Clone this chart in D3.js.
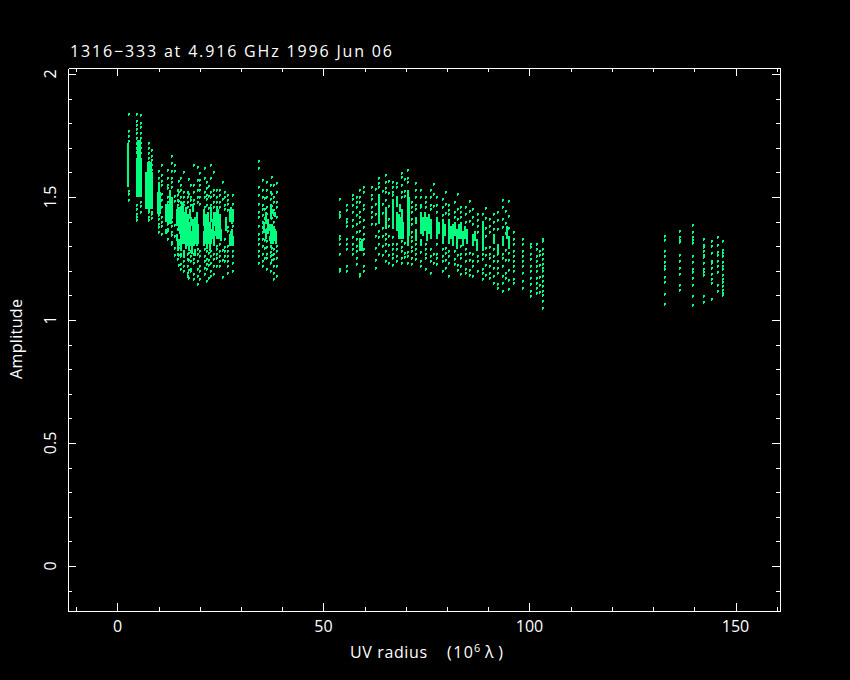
<!DOCTYPE html>
<html><head><meta charset="utf-8">
<script src="https://cdnjs.cloudflare.com/ajax/libs/d3/7.8.5/d3.min.js"></script>
<style>html,body{margin:0;background:#000}svg{display:block}text{font-family:"Open Sans","DejaVu Sans",sans-serif;font-weight:400;fill:#fff}</style>
</head><body><svg id="c" width="850" height="680"></svg>
<script>
const titleText = "1316\u2212333 at 4.916 GHz 1996 Jun 06";
const xTitle = "UV radius";
const yTitle = "Amplitude";
const xMajor = [0, 50, 100, 150];
const xMinor = [-10,10,20,30,40,60,70,80,90,110,120,130,140,160];
const yMajor = [0, 0.5, 1, 1.5, 2];
const yLabels = ["0", "0.5", "1", "1.5", "2"];
const yMinor = [-0.1,0.1,0.2,0.3,0.4,0.6,0.7,0.8,0.9,1.1,1.2,1.3,1.4,1.6,1.7,1.8,1.9];

// solid patches of the inner tracks
const bandFrom = [2.4,4.5,4.8,6.7,7.2,9.6,9.9,11.5,12.0,12.4];
const bandTo   = [2.9,5.9,5.7,8.6,8.4,10.6,10.4,12.2,13.2,13.0];
const bandLow  = [1.54,1.50,1.66,1.45,1.60,1.43,1.52,1.41,1.39,1.47];
const bandHigh = [1.72,1.66,1.73,1.60,1.64,1.52,1.56,1.47,1.47,1.53];

// streaks: radius, then low,high pairs of the unbroken runs on that column
const streakRadius = [11.6,13.0,14.2,14.4,14.7,14.9,15.2,15.4,15.7,15.9,16.1,16.4,16.6,16.9,17.1,17.4,17.6,17.8,18.1,18.3,18.6,18.8,19.1,19.3,
  20.8,21,21.2,21.5,21.7,22,22.2,22.5,22.9,23.2,23.7,23.9,24.2,24.4,24.6,24.9,26,27.1,27.3,27.5,27.8,
  35.2,35.7,36.2,36.7,37,37.3,37.5,37.8,38,38.3,
  58.5,59,63.3,64.9,66.6,67.6,68.1,68.4,68.6,68.9,69.1,70.3,70.5,72.2,73.4,73.9,74.3,74.8,75.3,75.8,77.3,77.8,78.7,79.2,80.2,80.7,81.2,81.7,82.2,82.7,83.1,83.6,84.1,84.6,86,86.5,87,88.4,91.1,92,93.3,94.2,94.7];
const streakRuns = [
 [1.40,1.47,1.35,1.37],[1.41,1.50],[1.38,1.45,1.32,1.35],[1.40,1.46,1.28,1.33],[1.36,1.46],[1.35,1.44,1.30,1.33],[1.33,1.45,1.28,1.31],[1.31,1.42,1.44,1.48],[1.33,1.46],[1.31,1.40,1.42,1.44,1.25,1.28],[1.32,1.44],[1.29,1.37,1.39,1.46],[1.31,1.42],[1.30,1.35,1.37,1.43],[1.28,1.40],[1.31,1.38,1.41,1.45],[1.30,1.36,1.38,1.42],[1.27,1.35],[1.31,1.41,1.44,1.47],[1.30,1.38],[1.33,1.42,1.26,1.29],[1.31,1.37],[1.30,1.34,1.36,1.44],[1.31,1.39],
 [1.30,1.36,1.38,1.45],[1.32,1.40],[1.31,1.43],[1.29,1.36,1.39,1.42],[1.33,1.44],[1.31,1.39],[1.34,1.40,1.28,1.31],[1.31,1.37,1.40,1.46],[1.33,1.41],[1.30,1.36,1.38,1.44],[1.34,1.44],[1.33,1.40,1.42,1.46],[1.35,1.45],[1.33,1.41],[1.36,1.43],[1.32,1.37],[1.36,1.42],[1.40,1.45,1.30,1.35],[1.41,1.46,1.31,1.36],[1.39,1.44,1.30,1.37],[1.40,1.45,1.30,1.34],
 [1.36,1.40],[1.33,1.37,1.39,1.44],[1.35,1.41],[1.36,1.39,1.32,1.34],[1.31,1.37,1.42,1.46],[1.33,1.39],[1.31,1.36,1.43,1.45],[1.32,1.38],[1.33,1.37,1.42,1.44],[1.31,1.36],
 [1.28,1.32],[1.28,1.33],[1.39,1.51],[1.37,1.46],[1.37,1.49],[1.36,1.44,1.46,1.50],[1.33,1.43],[1.35,1.41,1.44,1.47],[1.33,1.42],[1.36,1.45],[1.33,1.40],[1.30,1.53],[1.34,1.50],[1.39,1.42,1.32,1.37],[1.35,1.44,1.30,1.33],[1.34,1.42],[1.36,1.44],[1.32,1.42],[1.35,1.43],[1.33,1.41],[1.33,1.42],[1.35,1.40],[1.31,1.41],[1.34,1.39],[1.31,1.41],[1.33,1.38],[1.30,1.39],[1.34,1.40],[1.29,1.37],[1.33,1.39],[1.33,1.40],[1.30,1.36],[1.33,1.38],[1.31,1.37],[1.30,1.35],[1.32,1.36],[1.28,1.33],[1.28,1.40],[1.31,1.35],[1.27,1.31],[1.30,1.34],[1.33,1.38],[1.29,1.34]
];

// individual visibilities, by group of tracks
const coreRadius = [2.5,4.6,5.5,7.3,8.2,9.8,10.6,12,12.9,13.6];
const coreAmps = [
 [1.84,1.771,1.752,1.733,1.528,1.514,1.493],
 [1.84,1.812,1.798,1.781,1.762,1.744,1.723,1.703,1.688,1.472,1.454,1.433,1.421,1.409],
 [1.838,1.803,1.787,1.764,1.742,1.722,1.704,1.683,1.484,1.467,1.444],
 [1.722,1.703,1.681,1.663,1.648,1.452,1.441,1.423,1.411],
 [1.693,1.672,1.654,1.633,1.612,1.593,1.462,1.443,1.434,1.418],
 [1.608,1.583,1.562,1.541,1.523,1.503,1.484,1.431,1.413,1.392,1.381,1.362],
 [1.632,1.594,1.568,1.551,1.514,1.491,1.463,1.422,1.404,1.384,1.352],
 [1.612,1.583,1.552,1.541,1.502,1.482,1.461,1.392,1.373,1.364,1.332],
 [1.672,1.643,1.611,1.583,1.564,1.543,1.402,1.384,1.363,1.351,1.322,1.313],
 [1.632,1.611,1.508,1.487,1.388,1.344,1.296,1.268]
];
const cloudRadius = [14.4,14.8,15.2,16,16.8,17.2,17.6,18.4,19.2,19.8];
const cloudAmps = [
 [1.534,1.512,1.491,1.472,1.424,1.373,1.312,1.293,1.274,1.252],
 [1.568,1.526,1.487,1.416,1.377,1.298,1.267,1.228],
 [1.583,1.553,1.534,1.504,1.483,1.462,1.293,1.273,1.262,1.233,1.212],
 [1.604,1.523,1.502,1.484,1.473,1.283,1.262,1.244,1.223,1.204],
 [1.523,1.503,1.482,1.464,1.272,1.253,1.224,1.193,1.182],
 [1.578,1.516,1.276,1.247,1.207,1.176],
 [1.552,1.504,1.492,1.473,1.283,1.264,1.242,1.213,1.202],
 [1.632,1.553,1.524,1.493,1.474,1.272,1.253,1.234,1.192,1.172],
 [1.624,1.572,1.533,1.504,1.482,1.293,1.274,1.243,1.212,1.183,1.152],
 [1.603,1.574,1.553,1.532,1.503,1.474,1.283,1.264,1.223,1.204,1.172]
];
const lobeRadius = [20.9,21.6,22,22.4,23.2,24,24.7,25.3,25.9,26.6,27.7];
const lobeAmps = [
 [1.622,1.583,1.524,1.503,1.462,1.292,1.262,1.243,1.214,1.192],
 [1.563,1.542,1.513,1.494,1.472,1.284,1.253,1.232,1.213,1.163],
 [1.548,1.506,1.458,1.278,1.248,1.228,1.176],
 [1.632,1.583,1.524,1.502,1.473,1.283,1.262,1.234,1.204,1.183],
 [1.604,1.533,1.512,1.483,1.464,1.273,1.252,1.224,1.192],
 [1.533,1.504,1.482,1.463,1.303,1.293,1.272,1.254,1.222],
 [1.532,1.513,1.484,1.462,1.313,1.284,1.262,1.243,1.224],
 [1.566,1.496,1.287,1.247,1.177],
 [1.524,1.503,1.472,1.454,1.334,1.302,1.283,1.264,1.242],
 [1.512,1.493,1.474,1.452,1.383,1.364,1.303,1.284,1.262,1.243,1.224,1.193],
 [1.512,1.474,1.384,1.284,1.262,1.234,1.203]
];
const islandRadius = [34.1,35,35.5,36,36.9,37.3,37.7,38.4];
const islandAmps = [
 [1.652,1.623,1.543,1.512,1.474,1.443,1.422,1.384,1.353,1.332,1.314,1.283,1.262,1.234],
 [1.572,1.534,1.503,1.472,1.453,1.432,1.404,1.383,1.362,1.334,1.303,1.274,1.242,1.223],
 [1.498,1.456,1.417,1.366,1.328,1.296,1.256],
 [1.563,1.532,1.504,1.462,1.434,1.412,1.373,1.324,1.302,1.273,1.254,1.213],
 [1.552,1.523,1.494,1.472,1.443,1.422,1.364,1.333,1.304,1.282,1.263,1.234,1.203],
 [1.586,1.517,1.466,1.418,1.356,1.296,1.268,1.248],
 [1.554,1.503,1.484,1.452,1.433,1.402,1.293,1.274,1.253,1.222,1.194,1.172],
 [1.562,1.524,1.483,1.464,1.423,1.304,1.283,1.254,1.223,1.184]
];
const riseRadius = [53.8,55.5,56.9,57.9,58.6,59.7,61.5,62.4,63.3,64.1,64.9,65.7,66.6,67.6,68.8,69.5,70.3,71.2];
const riseAmps = [
 [1.496,1.443,1.432,1.422,1.344,1.332,1.313,1.273,1.213,1.203],
 [1.473,1.452,1.414,1.402,1.384,1.332,1.313,1.294,1.224,1.203],
 [1.512,1.494,1.473,1.444,1.412,1.384,1.343,1.312,1.293,1.274],
 [1.503,1.484,1.462,1.432,1.393,1.362,1.333,1.304,1.283,1.254,1.233],
 [1.532,1.503,1.484,1.443,1.424,1.402,1.364,1.332,1.313,1.294,1.192,1.183],
 [1.543,1.524,1.473,1.454,1.412,1.383,1.352,1.334,1.293,1.274,1.224,1.203],
 [1.543,1.512,1.494,1.462,1.443,1.422,1.394],
 [1.536,1.476,1.436,1.396,1.346,1.296,1.248,1.216],
 [1.583,1.562,1.544,1.364,1.342,1.313,1.273],
 [1.527,1.476,1.438,1.378,1.347,1.306,1.266],
 [1.594,1.563,1.542,1.524,1.493,1.353,1.334,1.312,1.283,1.243],
 [1.568,1.518,1.468,1.416,1.387,1.346,1.307,1.267,1.236],
 [1.563,1.544,1.523,1.512,1.343,1.314,1.292,1.274,1.254,1.226],
 [1.562,1.544,1.503,1.314,1.293,1.264,1.243],
 [1.603,1.584,1.552,1.524,1.503,1.324,1.302,1.283,1.254,1.234],
 [1.576,1.528,1.508,1.316,1.277,1.258],
 [1.612,1.583,1.564,1.282,1.263,1.234],
 [1.483,1.464,1.442,1.413,1.394,1.362,1.343,1.324,1.302,1.283,1.254,1.232]
];
const fallRadius = [72.2,73.4,74.6,75.8,76.5,77.3,78.7,79.5,80.2,81.7,82.4,83.1,84.3,85.2,86,87.2,88.4,89.3];
const fallAmps = [
 [1.562,1.534,1.503,1.472,1.454,1.313,1.294,1.272,1.253],
 [1.534,1.503,1.472,1.463,1.282,1.243,1.224],
 [1.503,1.482,1.464,1.313,1.294,1.273,1.254,1.212],
 [1.533,1.504,1.472,1.453,1.293,1.264,1.243,1.193],
 [1.558,1.517,1.466,1.272,1.236],
 [1.502,1.473,1.444,1.314,1.273,1.254,1.232],
 [1.494,1.463,1.432,1.293,1.264,1.243,1.203],
 [1.526,1.477,1.438,1.296,1.277,1.246,1.216],
 [1.473,1.452,1.434,1.283,1.262,1.234,1.183],
 [1.482,1.443,1.424,1.284,1.253,1.232],
 [1.516,1.456,1.416,1.267,1.228,1.206],
 [1.464,1.443,1.422,1.304,1.273,1.254,1.223,1.192],
 [1.462,1.434,1.403,1.293,1.272,1.244,1.213,1.194],
 [1.486,1.446,1.406,1.278,1.247,1.208,1.188],
 [1.454,1.423,1.392,1.274,1.243,1.222,1.183],
 [1.433,1.412,1.384,1.362,1.263,1.244,1.203],
 [1.434,1.403,1.382,1.344,1.274,1.253,1.212,1.194,1.172],
 [1.458,1.418,1.377,1.346,1.298,1.266,1.227,1.186]
];
const tailRadius = [90.2,91.1,92,93.3,94.1,94.8,95.9,98.1,100.1,101.6,102.2,103];
const tailAmps = [
 [1.413,1.384,1.362,1.302,1.273,1.254,1.222,1.193,1.174],
 [1.434,1.402,1.373,1.342,1.293,1.262,1.243,1.214,1.183,1.154],
 [1.443,1.412,1.374,1.274,1.243,1.214,1.193,1.152,1.133],
 [1.492,1.463,1.414,1.382,1.273,1.254,1.224,1.183,1.154,1.122],
 [1.446,1.398,1.358,1.287,1.246,1.196,1.176],
 [1.487,1.428,1.376,1.326,1.277,1.248,1.207,1.168,1.128],
 [1.362,1.334,1.312,1.283,1.264,1.242,1.223,1.204,1.172,1.153],
 [1.334,1.312,1.284,1.262,1.243,1.224,1.193,1.164,1.132],
 [1.313,1.302,1.274,1.253,1.224,1.203,1.174,1.152,1.123,1.103],
 [1.314,1.293,1.262,1.243,1.224,1.202,1.173,1.154,1.132,1.114],
 [1.286,1.268,1.227,1.178,1.147,1.118],
 [1.333,1.324,1.293,1.274,1.252,1.233,1.214,1.203,1.183,1.164,1.143,1.123,1.104,1.082,1.052]
];
const farRadius = [132.6,136.3,139.4,142.1,144,145.5,146.7];
const farAmps = [
 [1.345,1.33,1.285,1.265,1.24,1.225,1.21,1.18,1.16,1.11,1.07],
 [1.366,1.34,1.33,1.32,1.27,1.245,1.215,1.19,1.145,1.125],
 [1.39,1.36,1.34,1.33,1.315,1.265,1.24,1.21,1.20,1.175,1.145,1.10,1.065],
 [1.335,1.31,1.30,1.285,1.27,1.26,1.235,1.21,1.20,1.185,1.10,1.075],
 [1.325,1.305,1.275,1.245,1.235,1.215,1.19,1.17,1.155,1.09],
 [1.34,1.31,1.28,1.27,1.245,1.225,1.20,1.145,1.12],
 [1.325,1.29,1.275,1.265,1.24,1.225,1.21,1.185,1.17,1.16,1.14,1.125,1.115,1.105]
];

const green = "#00ff7f";
const svg = d3.select("#c");
const x = d3.scaleLinear().domain([-12.01, 160.8]).range([68, 780]);
const y = d3.scaleLinear().domain([-0.183, 2.024]).range([611, 68]);

svg.append("rect").attr("width", 850).attr("height", 680).attr("fill", "#000");

// solid patches
svg.append("g").selectAll("rect").data(bandFrom).join("rect")
  .attr("x", d => Math.round(x(d)))
  .attr("width", (d, i) => Math.max(1, Math.round(x(bandTo[i])) - Math.round(x(d))))
  .attr("y", (d, i) => y(bandHigh[i]))
  .attr("height", (d, i) => y(bandLow[i]) - y(bandHigh[i]))
  .attr("fill", green).attr("shape-rendering", "crispEdges");

// streaks
const streaks = streakRadius.flatMap((u, i) => d3.range(0, streakRuns[i].length, 2)
  .map(k => ({u, lo: streakRuns[i][k], hi: streakRuns[i][k + 1]})));
svg.append("g").selectAll("rect").data(streaks).join("rect")
  .attr("x", d => Math.round(x(d.u))).attr("width", 2)
  .attr("y", d => y(d.hi)).attr("height", d => y(d.lo) - y(d.hi))
  .attr("fill", green).attr("shape-rendering", "crispEdges");

// individual points: a small pixel hook
const groups = [[coreRadius,coreAmps],[cloudRadius,cloudAmps],[lobeRadius,lobeAmps],[islandRadius,islandAmps],
  [riseRadius,riseAmps],[fallRadius,fallAmps],[tailRadius,tailAmps],[farRadius,farAmps]];
const points = groups.flatMap(([rs, as]) => rs.flatMap((u, i) => as[i].map(a => ({u, a}))));
const hook = {draw(c) {c.moveTo(0,0);c.lineTo(2,0);c.lineTo(2,2);c.lineTo(1,2);c.lineTo(1,3);c.lineTo(0,3);c.closePath();}};
svg.append("g").selectAll("path").data(points).join("path")
  .attr("d", d3.symbol().type(hook))
  .attr("transform", d => `translate(${Math.round(x(d.u))},${Math.round(y(d.a))})`)
  .attr("fill", green).attr("shape-rendering", "crispEdges");

// frame and ticks
function styleAxis(g) {
  g.selectAll("path,line").attr("stroke", "#fff").attr("stroke-width", 1).attr("shape-rendering", "crispEdges");
  g.selectAll("text").remove();
}
const axes = [
  [d3.axisBottom, x, xMajor, xMinor, 611, "x"],
  [d3.axisTop, x, xMajor, xMinor, 68, "x"],
  [d3.axisLeft, y, yMajor, yMinor, 68, "y"],
  [d3.axisRight, y, yMajor, yMinor, 780, "y"]
];
axes.forEach(([mk, sc, maj, min, pos, dir]) => {
  [[maj, 8], [min, 4]].forEach(([vals, len]) => {
    const g = svg.append("g").attr("transform", dir === "x" ? `translate(0,${pos})` : `translate(${pos},0)`);
    g.call(mk(sc).tickValues(vals).tickSizeOuter(0).tickSizeInner(-len));
    styleAxis(g);
  });
});

// tick labels
svg.append("g").selectAll("text").data(xMajor).join("text")
  .attr("x", d => x(d)).attr("y", 632).attr("text-anchor", "middle").attr("font-size", 16).text(d => d);
svg.append("g").selectAll("text").data(yMajor).join("text")
  .attr("transform", d => `translate(56,${y(d)}) rotate(-90)`)
  .attr("text-anchor", "middle").attr("font-size", 16).text((d, i) => yLabels[i]);

// titles
svg.append("text").attr("x", 70).attr("y", 57).attr("font-size", 16)
  .attr("textLength", 322).attr("lengthAdjust", "spacing").text(titleText);
svg.append("text").attr("transform", "translate(22,339) rotate(-90)").attr("text-anchor", "middle")
  .attr("font-size", 16).attr("textLength", 80).text(yTitle);
const xl = svg.append("text").attr("y", 658).attr("font-size", 16);
xl.append("tspan").attr("x", 350).attr("textLength", 77).text(xTitle);
xl.append("tspan").attr("x", 447).attr("textLength", 26).text("(10");
xl.append("tspan").attr("x", 474).attr("dy", -6).attr("font-size", 11).text("6");
xl.append("tspan").attr("x", 485).attr("dy", 6).attr("textLength", 18).text("\u03bb)");
</script></body></html>
